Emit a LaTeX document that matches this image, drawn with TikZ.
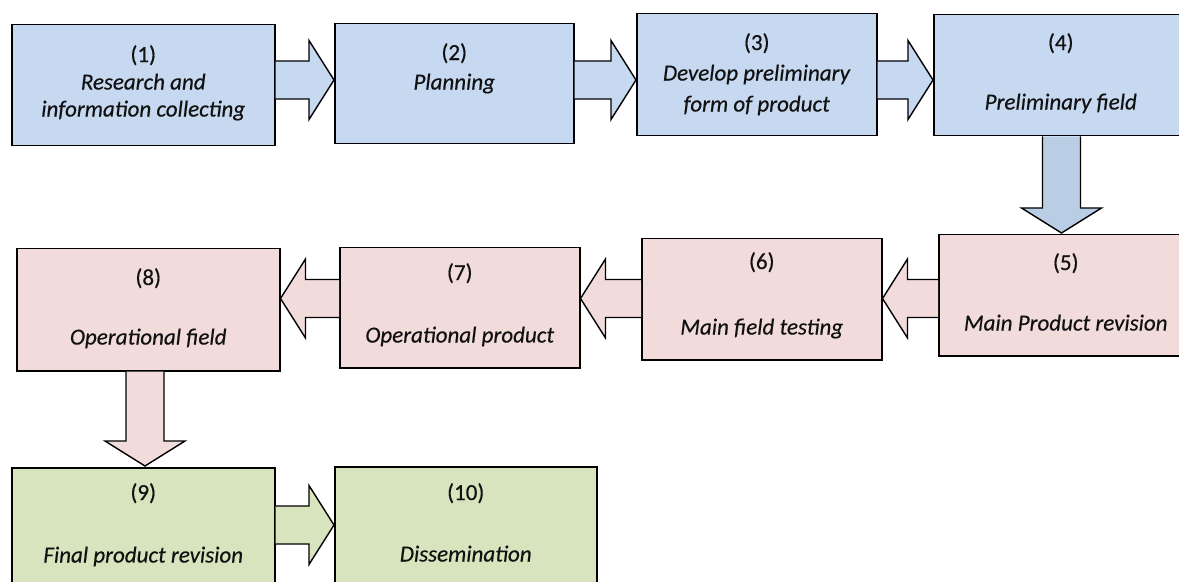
\documentclass[tikz,border=0pt]{standalone}
\usepackage{fontspec}
\setmainfont{Carlito}[FakeBold=0.4]
\usetikzlibrary{calc}
\definecolor{bluef}{HTML}{C6D9F1}
\definecolor{bluea}{HTML}{B9CDE5}
\definecolor{pinkf}{HTML}{F2DCDB}
\definecolor{greenf}{HTML}{D7E4BD}
\definecolor{txt}{HTML}{111111}
\newcommand\blockR[4]{\draw[barrow,fill=#4] let \p1=(#1.east), \p2=(#2.west) in
 (\x1,{-(#3-19)*1bp}) -- (\x2-25bp,{-(#3-19)*1bp}) -- (\x2-25bp,{-(#3-39.5)*1bp}) -- (\x2,{-(#3)*1bp}) -- (\x2-25bp,{-(#3+39.5)*1bp}) -- (\x2-25bp,{-(#3+19)*1bp}) -- (\x1,{-(#3+19)*1bp});}
\newcommand\blockL[4]{\draw[barrow,fill=#4] let \p1=(#1.west), \p2=(#2.east) in
 (\x1,{-(#3-19)*1bp}) -- (\x2+25bp,{-(#3-19)*1bp}) -- (\x2+25bp,{-(#3-39.5)*1bp}) -- (\x2,{-(#3)*1bp}) -- (\x2+25bp,{-(#3+39.5)*1bp}) -- (\x2+25bp,{-(#3+19)*1bp}) -- (\x1,{-(#3+19)*1bp});}
\newcommand\blockD[4]{\draw[barrow,fill=#4] let \p1=(#1.south), \p2=(#2.north) in
 ({(#3-19)*1bp},\y1) -- ({(#3-19)*1bp},\y2+26bp) -- ({(#3-40)*1bp},\y2+26bp) -- ({(#3)*1bp},\y2+1bp) -- ({(#3+40)*1bp},\y2+26bp) -- ({(#3+19)*1bp},\y2+26bp) -- ({(#3+19)*1bp},\y1);}
\begin{document}
\begin{tikzpicture}[x=1bp,y=-1bp,
  box/.style={draw=black, line width=1.5bp, inner sep=0pt, anchor=north west},
  lbl/.style={anchor=north, align=center, font=\fontsize{23bp}{30bp}\selectfont, inner sep=0pt, text=txt},
  barrow/.style={draw=black, line width=1.4bp, line join=miter}]
\useasboundingbox (0,0) rectangle (1179,582);
\clip (0,0) rectangle (1179,582);
% boxes
\node[box, fill=bluef, minimum width=263bp, minimum height=121bp] (b1) at (11,24) {};
\node[box, fill=bluef, minimum width=239bp, minimum height=120bp] (b2) at (334,23) {};
\node[box, fill=bluef, minimum width=240bp, minimum height=122bp] (b3) at (636,13) {};
\node[box, fill=bluef, minimum width=254bp, minimum height=121bp] (b4) at (933,14) {};
\node[box, fill=pinkf, minimum width=254bp, minimum height=121bp] (b5) at (938,234) {};
\node[box, fill=pinkf, minimum width=240bp, minimum height=121bp] (b6) at (641,238) {};
\node[box, fill=pinkf, minimum width=240bp, minimum height=120bp] (b7) at (339,247) {};
\node[box, fill=pinkf, minimum width=263bp, minimum height=122bp] (b8) at (16,248) {};
\node[box, fill=greenf, minimum width=263bp, minimum height=121bp] (b9) at (11,467) {};
\node[box, fill=greenf, minimum width=262bp, minimum height=121bp] (b10) at (334,466) {};
% texts
\node[lbl] (t1) at ([yshift=-21bp]b1.north) {(1)\\[-2.5bp]\textit{Research and}\\[-3bp]\textit{information collecting}};
\node[lbl] (t2) at ([yshift=-20bp]b2.north) {(2)\\[-0.5bp]\textit{Planning}};
\node[lbl] (t3) at ([yshift=-20bp]b3.north) {(3)\\[0.5bp]\textit{Develop preliminary}\\[1bp]\textit{form of product}};
\node[lbl] (t4) at ([yshift=-19bp]b4.north) {(4)\\[29.5bp]\textit{Preliminary field}};
\node[lbl] (t5) at ([yshift=-19bp]b5.north) {(5)\\[30.5bp]\textit{Main Product revision}};
\node[lbl] (t6) at ([yshift=-14bp]b6.north) {(6)\\[35.5bp]\textit{Main field testing}};
\node[lbl] (t7) at ([yshift=-16bp]b7.north) {(7)\\[32.5bp]\textit{Operational product}};
\node[lbl] (t8) at ([yshift=-20bp]b8.north) {(8)\\[29.5bp]\textit{Operational field}};
\node[lbl] (t9) at ([yshift=-16bp]b9.north) {(9)\\[32.5bp]\textit{Final product revision}};
\node[lbl] (t10) at ([yshift=-17bp]b10.north) {(10)\\[31.5bp]\textit{Dissemination}};
% arrows
\blockR{b1}{b2}{80}{bluef}
\blockR{b2}{b3}{80}{bluef}
\blockR{b3}{b4}{80}{bluef}
\blockD{b4}{b5}{1061.5}{bluea}
\blockL{b5}{b6}{298.5}{pinkf}
\blockL{b6}{b7}{298.5}{pinkf}
\blockL{b7}{b8}{298.5}{pinkf}
\blockD{b8}{b9}{145}{pinkf}
\blockR{b9}{b10}{525}{greenf}
\end{tikzpicture}
\end{document}
